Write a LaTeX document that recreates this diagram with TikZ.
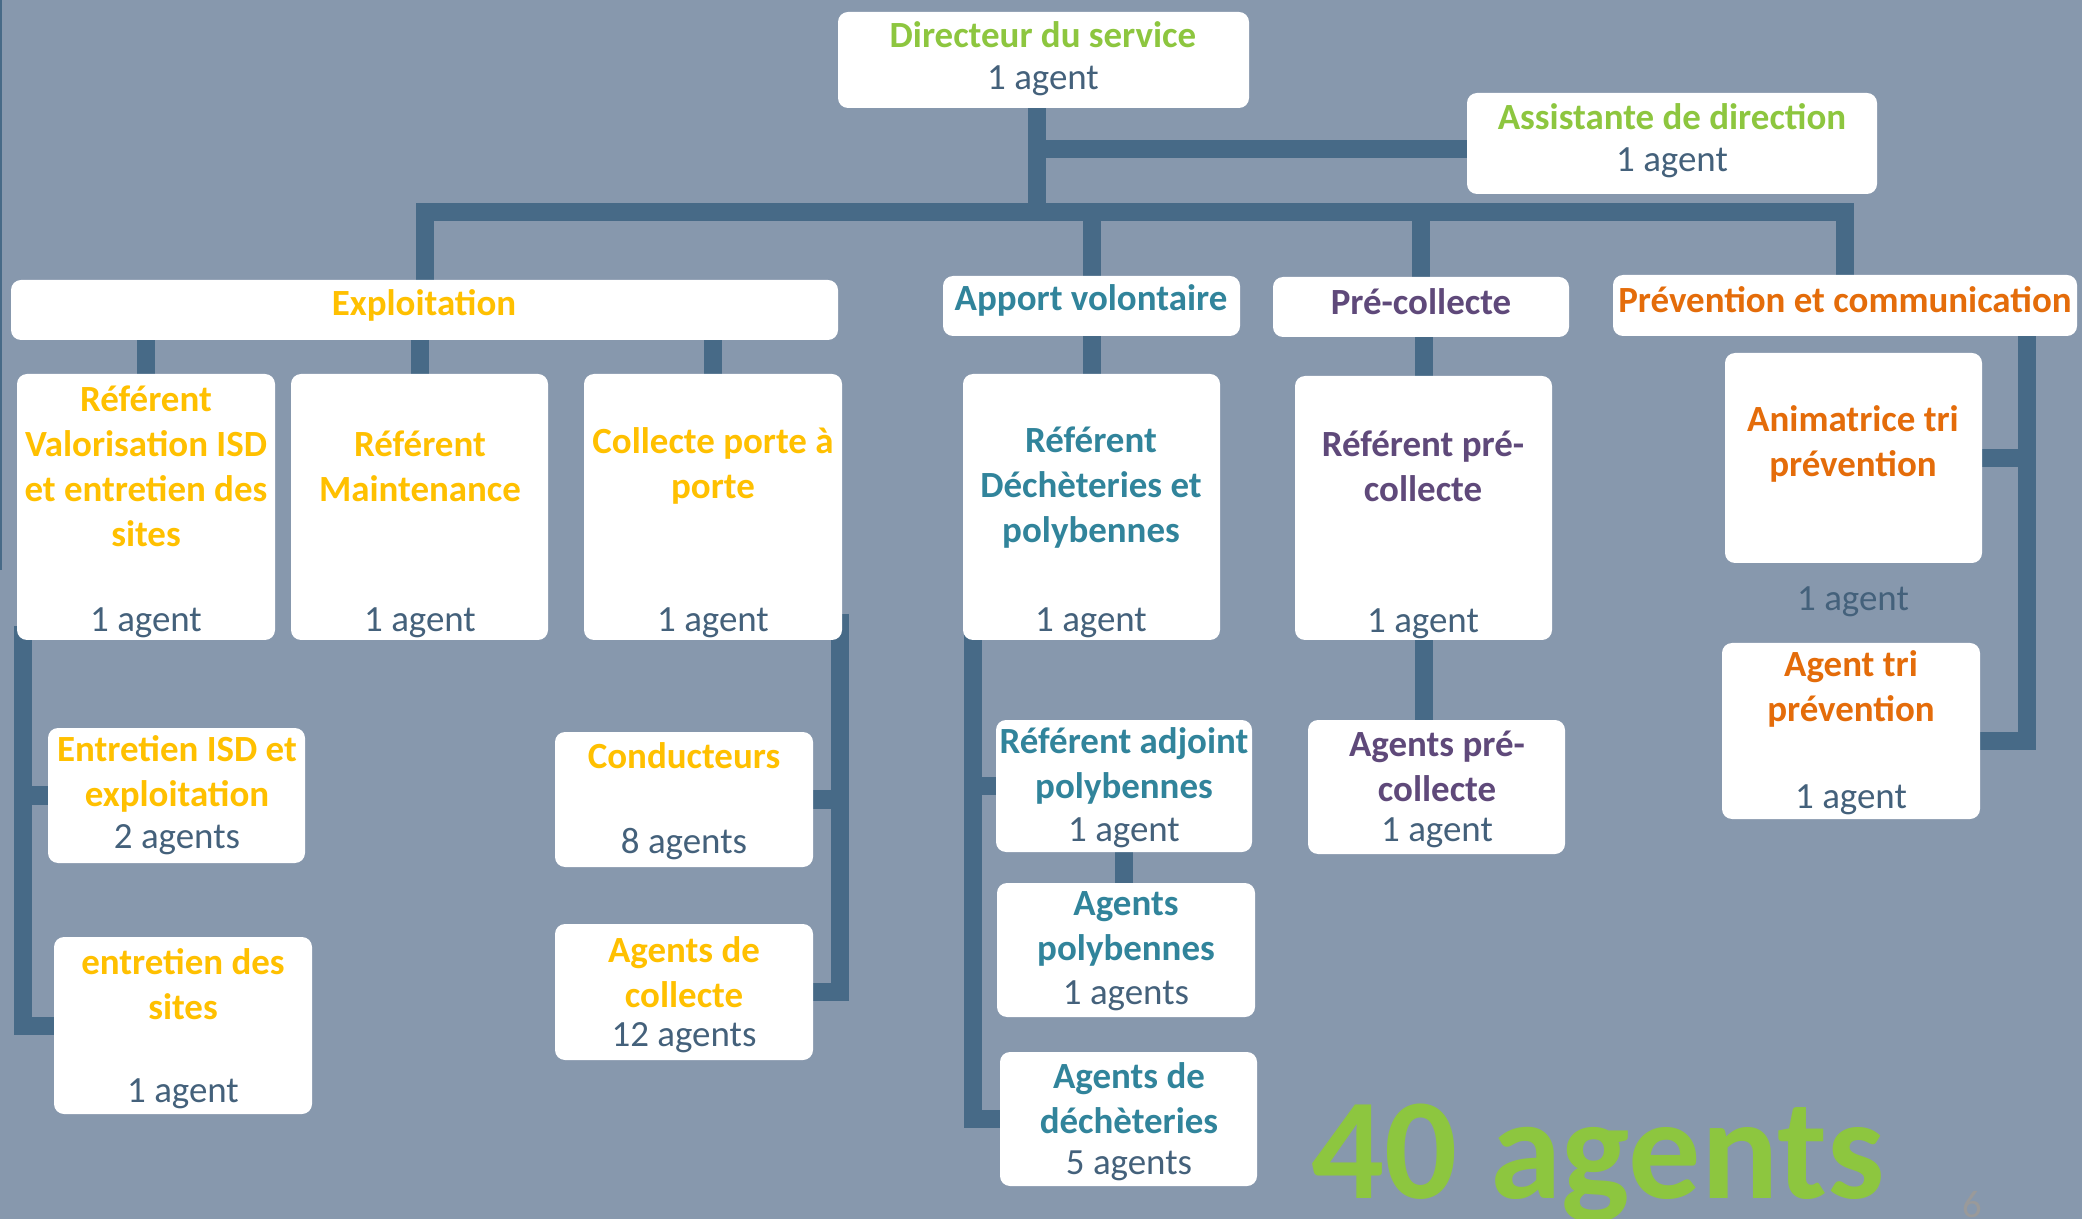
\documentclass[tikz,border=0pt]{standalone}
\usepackage{fontspec}
\setmainfont{Carlito}
\usetikzlibrary{fit}

\definecolor{slide}{HTML}{8798AD}
\definecolor{wire}{HTML}{476A87}
\definecolor{dirgreen}{HTML}{8DC63F}
\definecolor{expyellow}{HTML}{FFC000}
\definecolor{avteal}{HTML}{31849B}
\definecolor{pcpurple}{HTML}{5F497A}
\definecolor{prevorange}{HTML}{E46C0A}
\definecolor{countgray}{HTML}{44617B}
\definecolor{pagegray}{HTML}{9A9A9A}

\newcommand{\boxfont}{\fontsize{10.5}{12.8}\selectfont}

\pgfdeclarelayer{back}
\pgfdeclarelayer{wires}
\pgfsetlayers{back,wires,main}

\tikzset{
  orgbox/.style={fill=white, rounded corners=0.1cm, inner sep=0pt, outer sep=0pt},
  title/.style={text=#1, font=\boxfont\bfseries, align=center, inner sep=0pt},
  count/.style={text=countgray, font=\boxfont, inner sep=0pt},
  branch/.style={draw=wire, line width=0.18cm, line join=miter},
}

\begin{document}
\begin{tikzpicture}[x=0.01cm, y=-0.01cm]
  \useasboundingbox (0,0) rectangle (2082,1219);
  \begin{pgfonlayer}{back}
    \fill[slide] (0,0) rectangle (2082,1219);
    \fill[wire] (0,0) rectangle (2,570);
  \end{pgfonlayer}

  % direction
  \node[orgbox, fit={(838,12) (1249,108)}] (dir) {};
  \node[title=dirgreen] (dir-t) at (1043,35) {Directeur du service};
  \node[count] (dir-n) at (1043,81) {1 agent};
  \node[orgbox, fit={(1467,93) (1877,194)}] (asst) {};
  \node[title=dirgreen] (asst-t) at (1672,117) {Assistante de direction};
  \node[count] (asst-n) at (1672,163) {1 agent};

  % services
  \node[orgbox, fit={(11,280) (838,340)}] (expl) {};
  \node[title=expyellow] (expl-t) at (424,305) {Exploitation};
  \node[orgbox, fit={(943,276) (1240,336)}] (apport) {};
  \node[title=avteal] (apport-t) at (1091,300) {Apport volontaire};
  \node[orgbox, fit={(1273,277) (1569,337)}] (prec) {};
  \node[title=pcpurple] (prec-t) at (1421,302) {Pré-collecte};
  \node[orgbox, fit={(1613,275) (2077,336)}] (prev) {};
  \node[title=prevorange] (prev-t) at (1845,300) {Prévention et communication};

  % exploitation
  \node[orgbox, fit={(17,374) (275,640)}] (refisd) {};
  \node[title=expyellow] (refisd-t) at (146,466) {Référent\\Valorisation ISD\\et entretien des\\sites};
  \node[count] (refisd-n) at (146,623) {1 agent};
  \node[orgbox, fit={(291,374) (548,640)}] (refmaint) {};
  \node[title=expyellow] (refmaint-t) at (420,466) {Référent\\Maintenance};
  \node[count] (refmaint-n) at (420,623) {1 agent};
  \node[orgbox, fit={(584,374) (842,640)}] (collecte) {};
  \node[title=expyellow] (collecte-t) at (713,466) {Collecte porte à\\porte};
  \node[count] (collecte-n) at (713,623) {1 agent};

  \node[orgbox, fit={(48,728) (305,863)}] (entisd) {};
  \node[title=expyellow] (entisd-t) at (177,774) {Entretien ISD et\\exploitation};
  \node[count] (entisd-n) at (177,840) {2 agents};
  \node[orgbox, fit={(54,937) (312,1114)}] (entsites) {};
  \node[title=expyellow] (entsites-t) at (183,984) {entretien des\\sites};
  \node[count] (entsites-n) at (183,1094) {1 agent};
  \node[orgbox, fit={(555,732) (813,867)}] (cond) {};
  \node[title=expyellow] (cond-t) at (684,756) {Conducteurs};
  \node[count] (cond-n) at (684,844) {8 agents};
  \node[orgbox, fit={(555,924) (813,1060)}] (agcol) {};
  \node[title=expyellow] (agcol-t) at (684,972) {Agents de\\collecte};
  \node[count] (agcol-n) at (684,1038) {12 agents};

  % apport volontaire
  \node[orgbox, fit={(963,374) (1220,640)}] (refdech) {};
  \node[title=avteal] (refdech-t) at (1091,488) {Référent\\Déchèteries et\\polybennes};
  \node[count] (refdech-n) at (1091,623) {1 agent};
  \node[orgbox, fit={(996,720) (1252,852)}] (refadj) {};
  \node[title=avteal] (refadj-t) at (1124,766) {Référent adjoint\\polybennes};
  \node[count] (refadj-n) at (1124,833) {1 agent};
  \node[orgbox, fit={(997,883) (1255,1017)}] (agpoly) {};
  \node[title=avteal] (agpoly-t) at (1126,929) {Agents\\polybennes};
  \node[count] (agpoly-n) at (1126,996) {1 agents};
  \node[orgbox, fit={(1000,1052) (1257,1186)}] (agdech) {};
  \node[title=avteal] (agdech-t) at (1129,1098) {Agents de\\déchèteries};
  \node[count] (agdech-n) at (1129,1166) {5 agents};

  % pre-collecte
  \node[orgbox, fit={(1295,376) (1552,640)}] (refpc) {};
  \node[title=pcpurple] (refpc-t) at (1423,466) {Référent pré-\\collecte};
  \node[count] (refpc-n) at (1423,624) {1 agent};
  \node[orgbox, fit={(1308,720) (1565,854)}] (agpc) {};
  \node[title=pcpurple] (agpc-t) at (1437,766) {Agents pré-\\collecte};
  \node[count] (agpc-n) at (1437,833) {1 agent};

  % prevention
  \node[orgbox, fit={(1725,353) (1982,563)}] (anim) {};
  \node[title=prevorange] (anim-t) at (1853,444) {Animatrice tri\\prévention};
  \node[count] (anim-n) at (1853,602) {1 agent};
  \node[orgbox, fit={(1722,643) (1980,819)}] (agtri) {};
  \node[title=prevorange] (agtri-t) at (1851,689) {Agent tri\\prévention};
  \node[count] (agtri-n) at (1851,800) {1 agent};

  \node[text=dirgreen, font=\fontsize{41}{41}\selectfont\bfseries, anchor=base west, inner sep=0pt] (total) at (1311,1198) {40 agents};
  \node[text=pagegray, font=\fontsize{11}{11}\selectfont, anchor=base, inner sep=0pt] (page) at (1972,1217) {6};

  % links
  \coordinate (hub) at (1037,212);
  \coordinate (asstlink) at (1037,149);
  \coordinate (isdrail) at (23,626);
  \coordinate (colrail) at (840,614);
  \coordinate (dechrail) at (973,626);
  \coordinate (prevrail) at (2027,306);
  \coordinate (prevknee) at (2027,741);
  \begin{pgfonlayer}{wires}
    \draw[branch] (hub |- dir) -- (hub);
    \draw[branch] (asstlink) -- (asstlink -| asst);
    \draw[branch] (expl) -- (expl |- hub) -- (prev |- hub) -- (prev);
    \draw[branch] (apport) -- (apport |- hub);
    \draw[branch] (prec) -- (prec |- hub);
    \foreach \c in {refisd, refmaint, collecte}
      \draw[branch] (\c) -- (\c |- expl);
    \draw[branch] (isdrail) -- (isdrail |- entsites) -- (entsites);
    \draw[branch] (isdrail |- entisd) -- (entisd);
    \draw[branch] (colrail) -- (colrail |- agcol) -- (agcol);
    \draw[branch] (colrail |- cond) -- (cond);
    \draw[branch] (refdech) -- (apport);
    \draw[branch] (dechrail) -- (dechrail |- agdech) -- (agdech);
    \draw[branch] (dechrail |- refadj) -- (refadj);
    \draw[branch] (refadj) -- (refadj |- agpoly);
    \draw[branch] (refpc |- prec) -- (refpc |- agpc);
    \draw[branch] (prevrail) -- (prevknee) -- (prevknee -| agtri);
    \draw[branch] (prevrail |- anim) -- (anim);
  \end{pgfonlayer}
\end{tikzpicture}
\end{document}
